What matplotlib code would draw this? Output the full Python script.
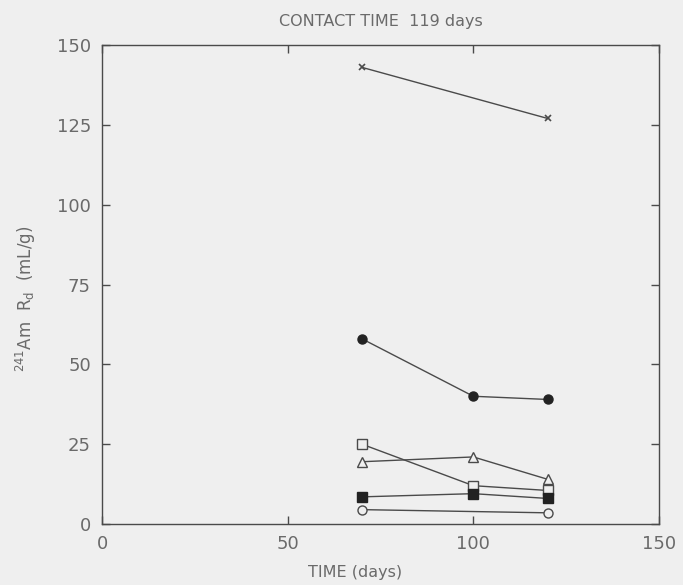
import matplotlib
matplotlib.use("Agg")
import matplotlib.pyplot as plt

# Sampling times (days) and measured Rd values for each sample series
times = [70, 100, 120]
series_x = [143, 127]            # crosses (only 70 and 120 days)
series_filled_circle = [58, 40, 39]
series_open_square = [25, 12, 10.5]
series_triangle = [19.5, 21, 14]
series_filled_square = [8.5, 9.5, 8]
series_open_circle = [4.5, 3.5]  # 70 and 120 days

xticks = [0, 50, 100, 150]
yticks = [0, 25, 50, 75, 100, 125, 150]

ink = "#4a4a4a"
txt = "#6a6a6a"
bg = "#efefef"

plt.rcParams["font.family"] = ["DejaVu Sans"]

fig = plt.figure(figsize=(6.83, 5.85), dpi=100, facecolor=bg)
ax = fig.add_axes([102 / 683, 1 - 524 / 585, 557 / 683, 479 / 585], facecolor=bg)

lw = 1.0
ax.plot([times[0], times[2]], series_x, color=ink, lw=lw, marker="x",
        ms=4, mew=1.2)
ax.plot(times, series_filled_circle, color=ink, lw=lw, marker="o", ms=6.5,
        mfc="#222222", mec="#222222")
ax.plot(times, series_open_square, color=ink, lw=lw, marker="s", ms=6.5,
        mfc=bg, mec=ink, mew=1.0)
ax.plot(times, series_triangle, color=ink, lw=lw, marker="^", ms=6.5,
        mfc=bg, mec=ink, mew=1.0)
ax.plot(times, series_filled_square, color=ink, lw=lw, marker="s", ms=6.5,
        mfc="#222222", mec="#222222")
ax.plot([times[0], times[2]], series_open_circle, color=ink, lw=lw,
        marker="o", ms=6.5, mfc=bg, mec=ink, mew=1.0)

ax.set_xlim(0, 150)
ax.set_ylim(0, 150)
ax.set_xticks(xticks)
ax.set_yticks(yticks)
ax.set_xticklabels([str(t) for t in xticks])
ax.set_yticklabels([str(t) for t in yticks])

for s in ax.spines.values():
    s.set_color(ink)
    s.set_linewidth(1.0)

ax.tick_params(direction="in", length=6, width=1, color=ink,
               top=True, right=True, labelsize=13, labelcolor=txt, pad=8)

ax.set_title("CONTACT TIME  119 days", fontsize=11.5, color=txt, pad=14)
ax.set_xlabel("TIME (days)", fontsize=11.5, color=txt, labelpad=6)
ax.xaxis.set_label_coords(0.455, -0.085)
ax.set_ylabel(r"$^{241}$Am  R$_{\mathrm{d}}$  (mL/g)", fontsize=12,
              color=txt, labelpad=12)
ax.yaxis.set_label_coords(-0.115, 0.47)

fig.savefig("out.png", dpi=100, facecolor=bg)
